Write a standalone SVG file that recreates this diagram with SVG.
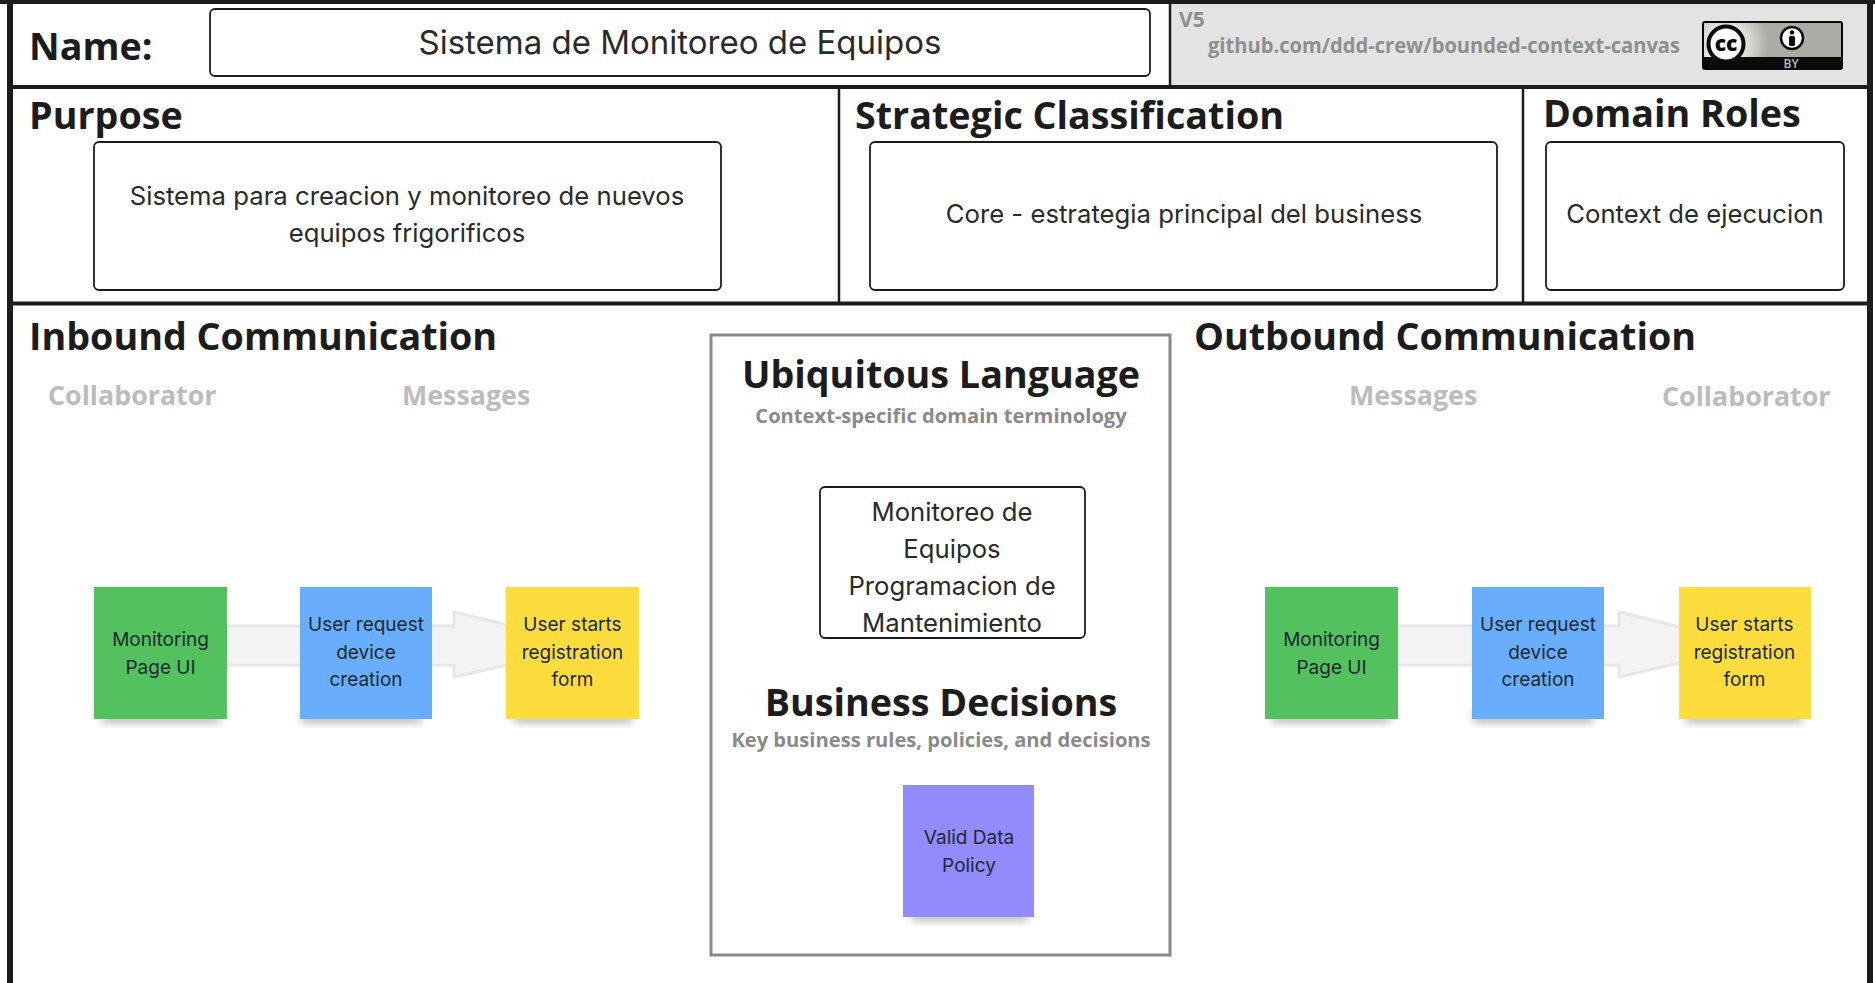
<svg xmlns="http://www.w3.org/2000/svg" width="1875" height="983" viewBox="0 0 1875 983">
<style>
.h{font-family:"Open Sans","Noto Sans",sans-serif;font-weight:700;fill:#1c1c1c}
.h1{font-size:37.700px}
.sub{font-family:"Open Sans","Noto Sans",sans-serif;font-weight:700;fill:#bcbcbc;font-size:26.800px}
.sm{font-family:"Open Sans","Noto Sans",sans-serif;font-weight:700;fill:#8a8a8a;font-size:20.150px;text-anchor:middle}
.box{fill:#fff;stroke:#1c1c1c;stroke-width:1.8}
.t{font-family:Inter,"Liberation Sans",sans-serif;fill:#2a2a2a;font-size:25.700px;text-anchor:middle}
.n{font-family:Inter,"Liberation Sans",sans-serif;fill:#1e2a30;font-size:19px;text-anchor:middle}
.line{stroke:#1c1c1c;fill:none}
.arrow{fill:#f3f3f3;stroke:#e7e7e7;stroke-width:3}
.shadow{fill:#666;opacity:.45;filter:url(#blur)}
</style>
<defs>
<filter id="blur" x="-20%" y="-50%" width="140%" height="200%"><feGaussianBlur stdDeviation="4"/></filter>
<radialGradient id="glow" gradientUnits="userSpaceOnUse" cx="1726" cy="44" r="42"><stop offset="0.5" stop-color="#dfe2dc"/><stop offset="1" stop-color="#a9ada5"/></radialGradient>
</defs>
<rect width="1875" height="983" fill="#fff"/>
<g id="frame">
<rect x="1170" y="4" width="700" height="83" fill="#e3e3e3"/>
<rect x="0" y="0" width="1875" height="4" fill="#1c1c1c"/>
<path class="line" stroke-width="6" d="M10 0V983M1870 0V983"/>
<path class="line" stroke-width="4" d="M10 87H1870M10 303.500H1870"/>
<path class="line" stroke-width="2.500" d="M1170 4V87M839 87V303M1523 87V303"/>
</g>
<g id="name">
<text class="h h1" x="29" y="59.500">Name:</text>
<rect class="box" x="210" y="9" width="940" height="67" rx="5"/>
<text class="t" x="680" y="54" style="font-size:33px">Sistema de Monitoreo de Equipos</text>
</g>
<g id="version">
<text x="1179" y="27" style="font-family:'Open Sans',sans-serif;font-weight:700;font-size:21px;fill:#8f8f8f">V5</text>
<text x="1208" y="53" textLength="472" lengthAdjust="spacingAndGlyphs" style="font-family:'Open Sans',sans-serif;font-weight:700;font-size:21px;fill:#8f8f8f">github.com/ddd-crew/bounded-context-canvas</text>
</g>
<g id="license">
<rect x="1702" y="21" width="141" height="49" rx="3" fill="#0a0a0a"/>
<rect x="1704" y="23" width="137" height="34" fill="#a9ada5"/>
<rect x="1704" y="23" width="64" height="34" fill="url(#glow)"/>
<circle cx="1726" cy="44" r="17.500" fill="#fff" stroke="#0a0a0a" stroke-width="4"/>
<text x="1726" y="50.700" text-anchor="middle" style="font-family:'Open Sans',sans-serif;font-weight:800;font-size:21px;fill:#0a0a0a">cc</text>
<circle cx="1792" cy="38" r="11" fill="#fff" stroke="#0a0a0a" stroke-width="2.500"/>
<circle cx="1792" cy="32.500" r="2.200" fill="#0a0a0a"/>
<rect x="1789" y="36" width="6" height="10" rx="1.500" fill="#0a0a0a"/>
<text x="1791" y="68" text-anchor="middle" style="font-family:'Open Sans',sans-serif;font-weight:600;font-size:12px;fill:#bdbdbd">BY</text>
</g>
<g id="purpose">
<text class="h h1" x="29" y="129">Purpose</text>
<rect class="box" x="94" y="142" width="627" height="148" rx="5"/>
<text class="t" x="407" y="205">Sistema para creacion y monitoreo de nuevos</text>
<text class="t" x="407" y="242">equipos frigorificos</text>
</g>
<g id="strategic-classification">
<text class="h h1" x="855" y="129">Strategic Classification</text>
<rect class="box" x="870" y="142" width="627" height="148" rx="5"/>
<text class="t" x="1184" y="223">Core - estrategia principal del business</text>
</g>
<g id="domain-roles">
<text class="h h1" x="1543" y="127">Domain Roles</text>
<rect class="box" x="1546" y="142" width="298" height="148" rx="5"/>
<text class="t" x="1695" y="223">Context de ejecucion</text>
</g>
<g id="inbound-heading">
<text class="h h1" x="29" y="350">Inbound Communication</text>
<text class="sub" x="48" y="405">Collaborator</text>
<text class="sub" x="402" y="405">Messages</text>
</g>
<g id="outbound-heading">
<text class="h h1" x="1194" y="350">Outbound Communication</text>
<text class="sub" x="1349" y="405">Messages</text>
<text class="sub" x="1662" y="406">Collaborator</text>
</g>
<g id="connectors">
<polygon class="arrow" points="226,626 454,626 454,612 593,645.500 454,677 454,665 226,665"/>
<polygon class="arrow" points="1398,626 1619,626 1619,612 1756,645.500 1619,677 1619,665 1398,665"/>
</g>
<g id="in-collaborator">
<rect class="shadow" x="102" y="713" width="118" height="10"/>
<rect x="94" y="587" width="133" height="132" fill="#52c15e"/>
<text class="n" x="160.500" y="646">Monitoring</text><text class="n" x="160.500" y="673.500">Page UI</text>
</g>
<g id="in-message">
<rect class="shadow" x="301" y="713" width="120" height="10"/>
<rect x="300" y="587" width="132" height="132" fill="#69aefd"/>
<text class="n" x="366" y="631">User request</text><text class="n" x="366" y="658.500">device</text><text class="n" x="366" y="686">creation</text>
</g>
<g id="in-event">
<rect class="shadow" x="514" y="713" width="118" height="10"/>
<rect x="506" y="587" width="133" height="132" fill="#fddd3d"/>
<text class="n" x="572.500" y="631">User starts</text><text class="n" x="572.500" y="658.500">registration</text><text class="n" x="572.500" y="686">form</text>
</g>
<g id="out-collaborator">
<rect class="shadow" x="1272" y="713" width="118" height="10"/>
<rect x="1265" y="587" width="133" height="132" fill="#52c15e"/>
<text class="n" x="1331.500" y="646">Monitoring</text><text class="n" x="1331.500" y="673.500">Page UI</text>
</g>
<g id="out-message">
<rect class="shadow" x="1473" y="713" width="120" height="10"/>
<rect x="1472" y="587" width="132" height="132" fill="#69aefd"/>
<text class="n" x="1538" y="631">User request</text><text class="n" x="1538" y="658.500">device</text><text class="n" x="1538" y="686">creation</text>
</g>
<g id="out-event">
<rect class="shadow" x="1686" y="713" width="116" height="10"/>
<rect x="1679" y="587" width="132" height="132" fill="#fddd3d"/>
<text class="n" x="1744.500" y="631">User starts</text><text class="n" x="1744.500" y="658.500">registration</text><text class="n" x="1744.500" y="686">form</text>
</g>
<g id="ubiquitous-language">
<rect x="711" y="335" width="459" height="620" fill="none" stroke="#8a8a8a" stroke-width="3"/>
<text class="h h1" x="941" y="388" text-anchor="middle">Ubiquitous Language</text>
<text class="sm" x="941" y="423">Context-specific domain terminology</text>
<rect class="box" x="820" y="487" width="265" height="151" rx="5"/>
<text class="t" x="952" y="521">Monitoreo de</text>
<text class="t" x="952" y="558">Equipos</text>
<text class="t" x="952" y="595">Programacion de</text>
<text class="t" x="952" y="632">Mantenimiento</text>
</g>
<g id="business-decisions">
<text class="h h1" x="941" y="716" text-anchor="middle">Business Decisions</text>
<text class="sm" x="941" y="746.500">Key business rules, policies, and decisions</text>
</g>
<g id="policy">
<rect class="shadow" x="912" y="911" width="116" height="10"/>
<rect x="903" y="785" width="131" height="132" fill="#918bfb"/>
<text class="n" x="969" y="844">Valid Data</text><text class="n" x="969" y="872">Policy</text>
</g>
</svg>
